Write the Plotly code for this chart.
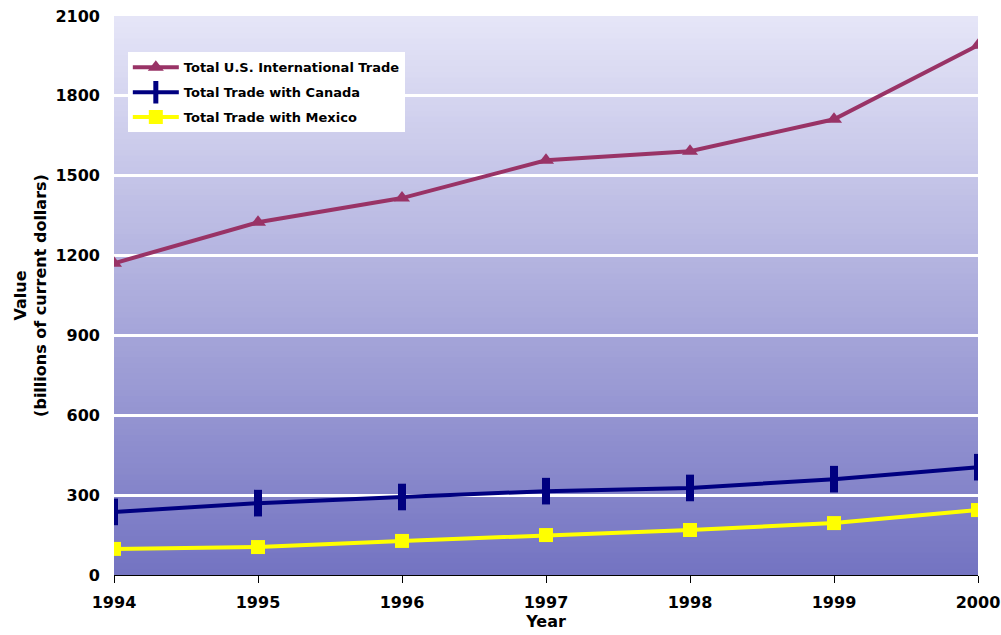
import plotly.graph_objects as go
import numpy as np

years = [1994, 1995, 1996, 1997, 1998, 1999, 2000]
total_us = [1171, 1325, 1416, 1558, 1592, 1712, 1990]
total_canada = [237, 270, 293, 315, 327, 360, 405]
total_mexico = [98, 105, 128, 150, 169, 195, 244]
y_ticks = [0, 300, 600, 900, 1200, 1500, 1800, 2100]

FONT = "DejaVu Sans, Liberation Sans, Arial, sans-serif"

fig = go.Figure()

fig.add_trace(go.Scatter(
    x=years, y=total_us, name="Total U.S. International Trade",
    mode="lines+markers", legendgroup="us",
    line=dict(color="#993366", width=4),
    marker=dict(symbol="triangle-up", size=14, color="#993366"),
))
fig.add_trace(go.Scatter(
    x=years, y=total_canada, name="Total Trade with Canada",
    mode="lines+markers", legendgroup="ca",
    line=dict(color="#000080", width=4),
    marker=dict(symbol="line-ns", size=19, color="#000080",
                line=dict(color="#000080", width=8)),
))
fig.add_trace(go.Scatter(
    x=years, y=total_mexico, name="Total Trade with Mexico",
    mode="lines+markers", legendgroup="mx",
    line=dict(color="#ffff00", width=4),
    marker=dict(symbol="square", size=14, color="#ffff00"),
))

# vertical gradient background: light lavender at top to blue-violet at bottom.
# Each strip runs to the top so overlapping strips leave no seams.
n_strips = 100
top_rgb = np.array([230, 230, 248])
bot_rgb = np.array([116, 116, 194])
shapes = []
for i in range(n_strips):
    y0 = 2100 * i / n_strips
    t = (i + 0.5) / n_strips
    c = bot_rgb + (top_rgb - bot_rgb) * t
    shapes.append(dict(
        type="rect", xref="x", yref="y", x0=1994, x1=2000, y0=y0, y1=2100,
        fillcolor="rgb(%d,%d,%d)" % tuple(int(v) for v in c),
        line=dict(width=0), layer="below",
    ))

fig.update_layout(
    width=1001, height=635,
    margin=dict(l=114, r=23, t=16, b=60, autoexpand=False),
    paper_bgcolor="white",
    plot_bgcolor="white",
    shapes=shapes,
    font=dict(family=FONT, color="black"),
    showlegend=True,
    legend=dict(
        x=0.016, y=0.935, xanchor="left", yanchor="top",
        bgcolor="white", borderwidth=0,
        font=dict(family=FONT, size=13, weight="bold"),
        itemwidth=46, tracegroupgap=5,
    ),
    xaxis=dict(
        range=[1994, 2000], tickmode="array", tickvals=years,
        showgrid=False, zeroline=False, automargin=False,
        showline=True, linecolor="black", linewidth=1,
        ticks="outside", ticklen=7, tickcolor="black",
        ticklabelstandoff=6,
        tickfont=dict(family=FONT, size=16, weight="bold"),
        title=dict(text="Year", standoff=3,
                   font=dict(family=FONT, size=16, weight="bold")),
    ),
    yaxis=dict(
        range=[0, 2100], tickmode="array", tickvals=y_ticks,
        showgrid=True, gridcolor="white", gridwidth=3,
        zeroline=False, showline=False, ticks="", automargin=False,
        ticklabelstandoff=13,
        tickfont=dict(family=FONT, size=16, weight="bold"),
        title=dict(text="Value<br>(billions of current dollars)", standoff=4,
                   font=dict(family=FONT, size=16, weight="bold")),
    ),
)

fig.write_html("out.html")
